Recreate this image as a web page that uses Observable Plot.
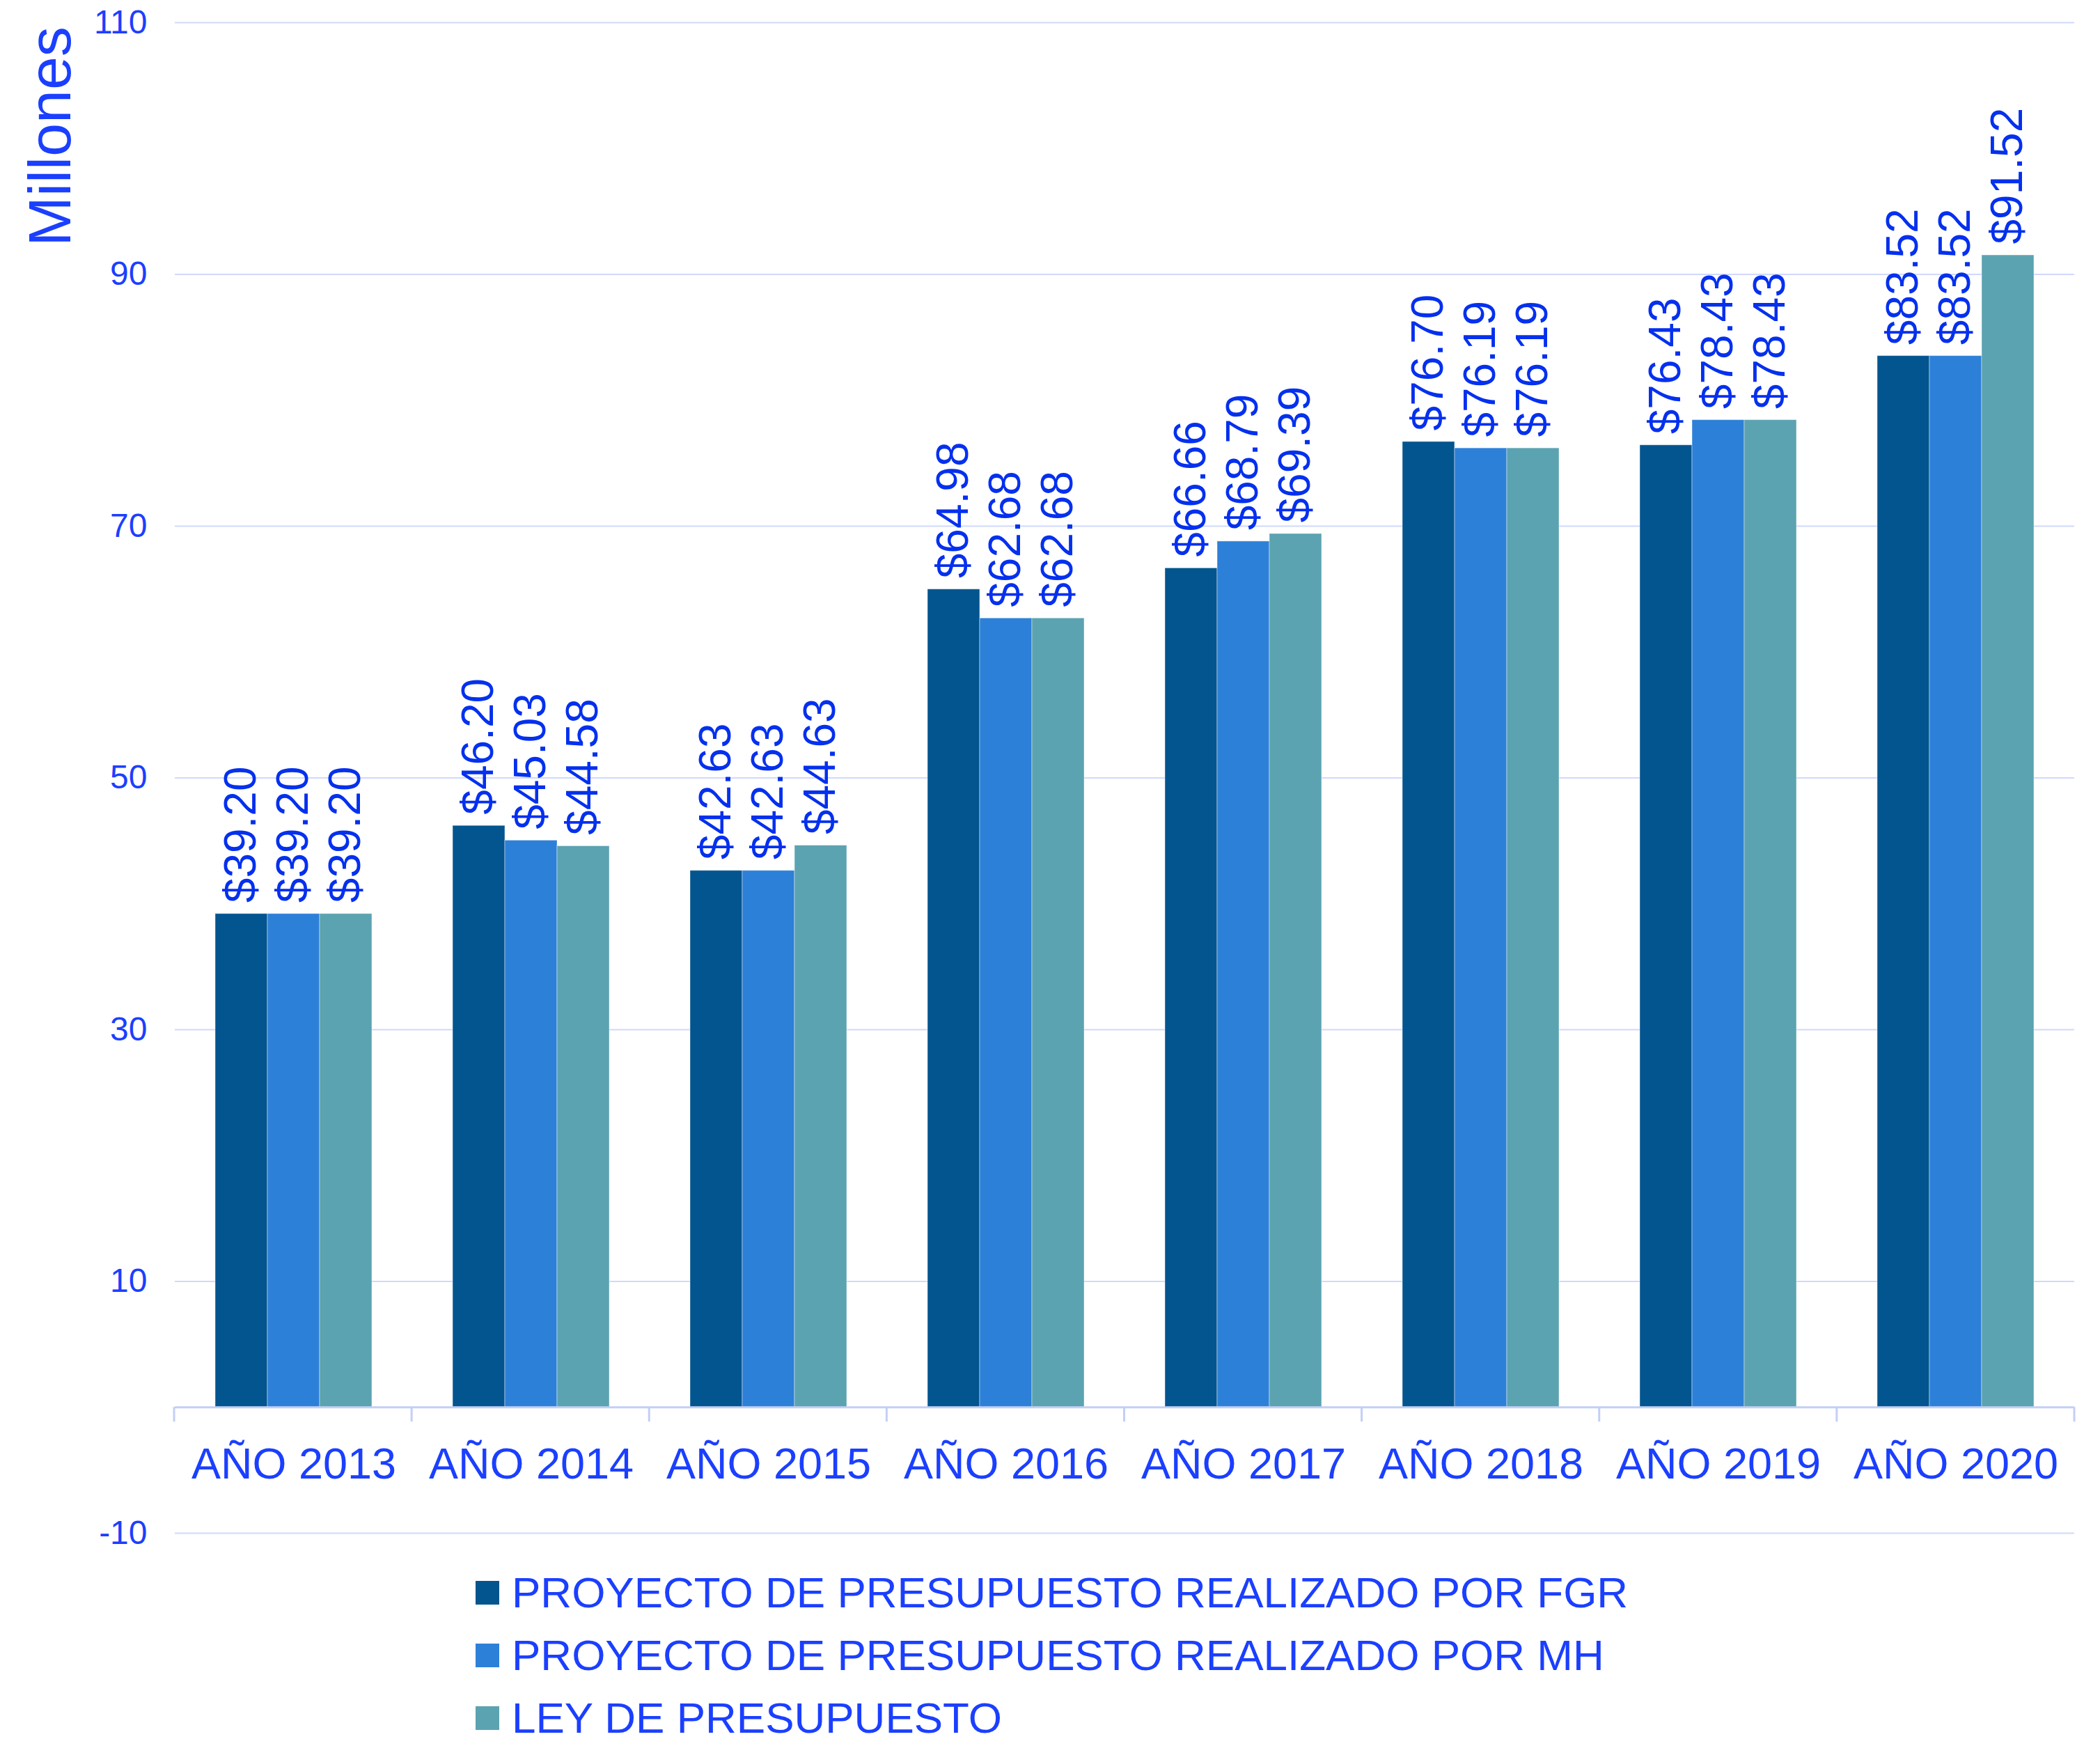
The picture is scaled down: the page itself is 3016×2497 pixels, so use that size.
<!DOCTYPE html>
<html>
<head>
<meta charset="utf-8">
<script src="https://cdn.jsdelivr.net/npm/d3@7"></script>
<script src="https://cdn.jsdelivr.net/npm/@observablehq/plot@0.6"></script>
<style>
  html, body { margin: 0; padding: 0; background: #ffffff; overflow: hidden; }
  body { position: relative; width: 3016px; height: 2497px; font-family: "Liberation Sans", Arial, Helvetica, sans-serif; }
  svg { display: block; }
  #ylabel {
    position: absolute; left: 71px; top: 196px;
    transform: translate(-50%, -50%) rotate(-90deg);
    font-size: 86px; line-height: 1; color: #1b3fff; white-space: nowrap;
  }
  #legend { margin-left: 683px; padding-top: 2px; }
  .row { height: 90px; display: flex; align-items: center; }
  .sw { width: 34px; height: 34px; margin-right: 18px; flex: none; }
  .lt { font-size: 62px; line-height: 1; color: #1b3fff; white-space: nowrap; }
</style>
</head>
<body>
<div id="chart"></div>
<div id="legend"></div>
<div id="ylabel">Millones</div>
<script>
const years = ["AÑO 2013", "AÑO 2014", "AÑO 2015", "AÑO 2016", "AÑO 2017", "AÑO 2018", "AÑO 2019", "AÑO 2020"];
const series = [
  "PROYECTO DE PRESUPUESTO REALIZADO POR FGR",
  "PROYECTO DE PRESUPUESTO REALIZADO POR MH",
  "LEY DE PRESUPUESTO"
];
const fgr = [39.20, 46.20, 42.63, 64.98, 66.66, 76.70, 76.43, 83.52];
const mh  = [39.20, 45.03, 42.63, 62.68, 68.79, 76.19, 78.43, 83.52];
const ley = [39.20, 44.58, 44.63, 62.68, 69.39, 76.19, 78.43, 91.52];
const yTicks = [-10, 10, 30, 50, 70, 90, 110];
const colors = ["#03558f", "#2d80d8", "#5ba3b0"];

const axisColor = "#1b3fff";
const labelColor = "#0430ee";
const gridColor = "#d0d9fb";
const baseColor = "#c3cff5";
const font = "Liberation Sans, Arial, Helvetica, sans-serif";

const valuesBySeries = [fgr, mh, ley];
const data = [];
years.forEach((yr, i) => {
  series.forEach((s, j) => data.push({year: yr, series: s, value: valuesBySeries[j][i]}));
});

const chart = Plot.plot({
  width: 3016,
  height: 2240,
  marginTop: 32,
  marginBottom: 39,
  marginLeft: 250,
  marginRight: 37,
  style: {fontFamily: font, fontSize: "48px", color: axisColor, background: "#ffffff"},
  fx: {domain: years, padding: 0, axis: null},
  x: {domain: series, paddingInner: 0, paddingOuter: 0.75, axis: null},
  y: {domain: [-10, 110], ticks: yTicks, tickSize: 0, tickPadding: 40, label: null, tickFormat: d => String(d)},
  color: {domain: series, range: colors},
  marks: [
    Plot.ruleY(yTicks, {stroke: gridColor, strokeWidth: 2}),
    Plot.barY(data, {fx: "year", x: "series", y: "value", fill: "series", stroke: "#ffffff", strokeOpacity: 0.45, strokeWidth: 1}),
    Plot.ruleY([0], {stroke: baseColor, strokeWidth: 3}),
    Plot.text(data, {
      fx: "year", x: "series", y: "value",
      text: d => "$" + d.value.toFixed(2),
      rotate: -90, textAnchor: "start", lineAnchor: "middle",
      dy: -16, fontSize: 64, fill: labelColor, fontFamily: font
    }),
    Plot.text(years, {
      fx: d => d, y: () => 0, text: d => d,
      frameAnchor: "middle", textAnchor: "middle", lineAnchor: "top",
      dy: 58, fontSize: 63, fill: axisColor, fontFamily: font
    })
  ]
});

document.getElementById("chart").appendChild(chart);

// category boundary ticks on the baseline, from the fx and y scales
const svg = chart.tagName.toLowerCase() === "svg" ? chart : chart.querySelector("svg");
const fxS = chart.scale("fx");
const yS = chart.scale("y");
const yLin = d3.scaleLinear().domain(yS.domain).range(yS.range);
const y0 = yLin(0);
const r0 = fxS.range[0], r1 = fxS.range[1];
const n = fxS.domain.length;
const step = (r1 - r0) / n;
const g = d3.select(svg).append("g").attr("stroke", baseColor).attr("stroke-width", 3);
for (let i = 0; i <= n; i++) {
  const x = r0 + i * step;
  g.append("line").attr("x1", x).attr("x2", x).attr("y1", y0).attr("y2", y0 + 21);
}

// legend
const legend = document.getElementById("legend");
series.forEach((s, j) => {
  const row = document.createElement("div");
  row.className = "row";
  const sw = document.createElement("div");
  sw.className = "sw";
  sw.style.background = colors[j];
  const t = document.createElement("span");
  t.className = "lt";
  t.textContent = s;
  row.appendChild(sw);
  row.appendChild(t);
  legend.appendChild(row);
});
</script>
</body>
</html>
